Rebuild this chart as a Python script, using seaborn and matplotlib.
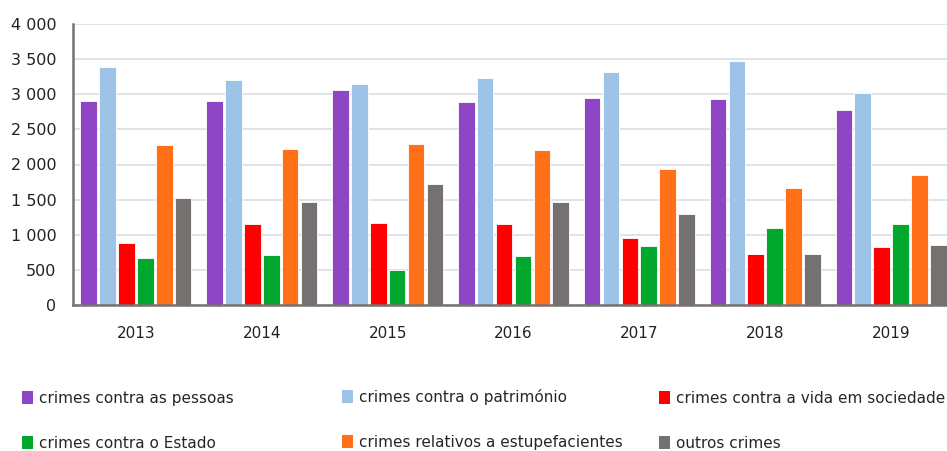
import matplotlib
matplotlib.use("Agg")
import matplotlib.pyplot as plt
import matplotlib.ticker as mticker
from matplotlib.patches import Patch
import pandas as pd
import seaborn as sns

years = ["2013", "2014", "2015", "2016", "2017", "2018", "2019"]
categories = [
    "crimes contra as pessoas",
    "crimes contra o património",
    "crimes contra a vida em sociedade",
    "crimes contra o Estado",
    "crimes relativos a estupefacientes",
    "outros crimes",
]
pessoas = [2904, 2904, 3056, 2885, 2942, 2928, 2780]
patrimonio = [3388, 3203, 3142, 3231, 3312, 3478, 3018]
vida_sociedade = [878, 1153, 1167, 1153, 958, 731, 821]
estado = [669, 712, 503, 698, 835, 1091, 1153]
estupefacientes = [2278, 2216, 2292, 2202, 1941, 1670, 1850]
outros = [1519, 1462, 1718, 1462, 1291, 731, 850]
colors = ["#8E46C4", "#9DC3E6", "#FF0000", "#02A82E", "#FF7019", "#767171"]

series = [pessoas, patrimonio, vida_sociedade, estado, estupefacientes, outros]
rows = []
for cat, vals in zip(categories, series):
    for y, v in zip(years, vals):
        rows.append({"ano": y, "categoria": cat, "valor": v})
df = pd.DataFrame(rows)

sns.set_theme(style="white")
plt.rcParams["font.family"] = ["DejaVu Sans"]

fig = plt.figure(figsize=(9.47, 4.51), dpi=100)
ax = fig.add_axes([73 / 947, 146 / 451, 881 / 947, 281 / 451])

sns.barplot(
    data=df, x="ano", y="valor", hue="categoria", hue_order=categories,
    order=years, palette=colors, saturation=1, width=0.9, gap=0.12, ax=ax,
    edgecolor="white", linewidth=0.6, legend=False, errorbar=None,
)

ax.set_xlim(-0.5, 6.5)
ax.set_ylim(0, 4000)
ax.yaxis.set_major_locator(mticker.MultipleLocator(500))
ax.yaxis.set_major_formatter(
    mticker.FuncFormatter(lambda v, _: f"{int(v):,}".replace(",", " "))
)
ax.grid(axis="y", color="#DDE2E8", linewidth=1.3)
ax.set_axisbelow(True)
ax.set_xlabel("")
ax.set_ylabel("")
for side in ["top", "right"]:
    ax.spines[side].set_visible(False)
for side in ["left", "bottom"]:
    ax.spines[side].set_color("#767171")
    ax.spines[side].set_linewidth(1.8)
ax.tick_params(axis="y", length=0, pad=12, labelsize=11.5, labelcolor="#222222")
ax.tick_params(axis="x", length=0, pad=15, labelsize=11, labelcolor="#222222")

# Legend: three columns, two rows
col_x = [22 / 947, 342 / 947, 659 / 947]
col_top = [391, 389, 391]
for j in range(3):
    handles = [
        Patch(facecolor=colors[j], edgecolor="none", label=categories[j]),
        Patch(facecolor=colors[j + 3], edgecolor="none", label=categories[j + 3]),
    ]
    fig.legend(
        handles=handles, loc="upper left",
        bbox_to_anchor=(col_x[j], 1 - col_top[j] / 451),
        frameon=False, fontsize=11, handlelength=0.75, handleheight=0.95,
        handletextpad=0.35, labelspacing=1.95, borderpad=0, borderaxespad=0,
    )

fig.savefig("out.png", dpi=100)
